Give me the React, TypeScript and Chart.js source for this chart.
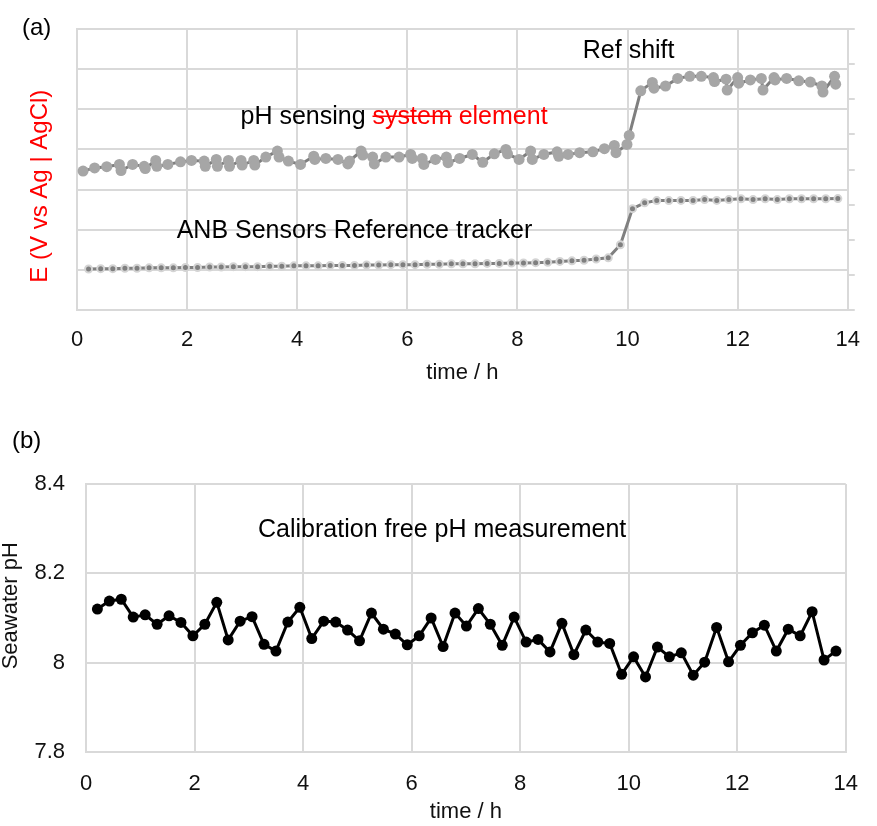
import React, { useEffect, useRef } from "react";
import { Chart, registerables } from "chart.js";

Chart.register(...registerables);

const FONT = '"Liberation Sans", Arial, Helvetica, sans-serif';

// Shared sampling times (h) for the reference tracker (a) and the seawater pH (b)
const sampleTimes = [
  0.21, 0.43, 0.65, 0.87, 1.09, 1.31, 1.53, 1.75, 1.97, 2.19, 2.41, 2.62, 2.84, 3.06, 3.28, 3.5,
  3.72, 3.94, 4.16, 4.38, 4.6, 4.82, 5.04, 5.26, 5.48, 5.7, 5.92, 6.14, 6.36, 6.58, 6.8, 7.01,
  7.23, 7.45, 7.67, 7.89, 8.11, 8.33, 8.55, 8.77, 8.99, 9.21, 9.43, 9.65, 9.87, 10.09, 10.31, 10.53,
  10.75, 10.97, 11.19, 11.4, 11.62, 11.84, 12.06, 12.28, 12.5, 12.72, 12.94, 13.16, 13.38, 13.6, 13.82,
];

// Panel (b): calibration free seawater pH
const seawaterPH = [
  8.12, 8.138, 8.142, 8.102, 8.107, 8.086, 8.105, 8.09, 8.06, 8.086, 8.135, 8.051, 8.093, 8.103, 8.041, 8.026,
  8.091, 8.124, 8.054, 8.093, 8.091, 8.073, 8.049, 8.111, 8.075, 8.064, 8.04, 8.06, 8.1, 8.036, 8.111, 8.082,
  8.121, 8.086, 8.039, 8.102, 8.046, 8.052, 8.024, 8.088, 8.018, 8.073, 8.046, 8.043, 7.974, 8.013, 7.968, 8.035,
  8.013, 8.022, 7.972, 8.001, 8.079, 8.002, 8.039, 8.067, 8.084, 8.026, 8.075, 8.06, 8.114, 8.006, 8.026,
];

// Panel (a): ANB Sensors reference tracker potential (relative units)
const refTrackerE = [
  10.2, 10.3, 10.3, 10.4, 10.4, 10.5, 10.5, 10.5, 10.6, 10.6, 10.7, 10.7, 10.8, 10.8, 10.8, 10.9,
  10.9, 11.0, 11.0, 11.0, 11.1, 11.1, 11.1, 11.2, 11.2, 11.3, 11.3, 11.3, 11.4, 11.4, 11.5, 11.5,
  11.5, 11.6, 11.6, 11.7, 11.7, 11.8, 11.9, 12.1, 12.25, 12.4, 12.7, 13.0, 16.25, 25.25, 26.7, 27.25,
  27.25, 27.3, 27.3, 27.5, 27.3, 27.5, 27.7, 27.5, 27.7, 27.5, 27.7, 27.7, 27.7, 27.7, 27.75,
];

// Panel (a): pH sensing element potential (relative units)
const phSensingTime = [
  0.11, 0.32, 0.54, 0.77, 0.8, 1.01, 1.22, 1.24, 1.43, 1.45, 1.65, 1.88, 2.08, 2.31, 2.33, 2.53,
  2.55, 2.75, 2.77, 2.98, 3.0, 3.21, 3.23, 3.43, 3.64, 3.67, 3.84, 4.06, 4.3, 4.32, 4.52, 4.74,
  4.92, 4.95, 5.16, 5.19, 5.37, 5.4, 5.61, 5.85, 6.06, 6.09, 6.27, 6.3, 6.51, 6.71, 6.74, 6.95,
  7.18, 7.37, 7.58, 7.79, 7.82, 8.03, 8.24, 8.27, 8.48, 8.72, 8.75, 8.92, 9.13, 9.37, 9.58, 9.76,
  9.79, 9.99, 10.03, 10.24, 10.45, 10.48, 10.69, 10.91, 11.13, 11.34, 11.56, 11.58, 11.79, 11.81, 12.0, 12.02,
  12.23, 12.43, 12.46, 12.66, 12.68, 12.89, 13.11, 13.32, 13.53, 13.55, 13.76, 13.78,
];
const phSensingE = [
  34.6, 35.4, 35.7, 36.25, 34.75, 36.25, 35.8, 35.25, 37.25, 35.8, 36.25, 36.9, 37.25, 37.1, 35.8, 37.5,
  35.8, 37.25, 35.8, 37.25, 36.1, 37.25, 36.1, 38.1, 39.6, 38.1, 37.1, 36.25, 38.3, 37.5, 37.75, 37.5,
  36.4, 37.1, 39.6, 38.6, 38.1, 36.4, 38.1, 38.1, 38.75, 37.75, 37.75, 36.25, 37.5, 38.1, 36.7, 37.75,
  38.75, 36.8, 38.9, 40.0, 38.9, 37.5, 39.6, 37.5, 38.75, 39.4, 38.3, 38.75, 39.2, 39.4, 40.2, 41.0,
  39.2, 41.25, 43.5, 54.6, 56.7, 55.25, 55.8, 57.7, 58.2, 58.2, 57.9, 56.9, 57.5, 54.8, 57.9, 56.5,
  57.3, 57.7, 54.8, 57.9, 57.3, 57.7, 57.1, 56.8, 55.8, 54.3, 58.2, 56.25,
];

const GRID = "#d9d9d9";
const TEXT = "#111111";

type Part = { text: string; color: string; strike?: boolean };
type Ann = { x: number; y: number; parts: Part[]; size: number; align: "left" | "center"; pixel?: boolean };

function makeTextPlugin(id: string, items: Ann[]) {
  return {
    id,
    afterDatasetsDraw(chart: any) {
      const { ctx, scales } = chart;
      ctx.save();
      for (const it of items) {
        ctx.font = `${it.size}px ${FONT}`;
        ctx.textBaseline = "middle";
        ctx.textAlign = "left";
        let x = it.pixel ? it.x : scales.x.getPixelForValue(it.x);
        const y = it.pixel ? it.y : scales.y.getPixelForValue(it.y);
        const total = it.parts.reduce((s, p) => s + ctx.measureText(p.text).width, 0);
        if (it.align === "center") x -= total / 2;
        for (const p of it.parts) {
          const w = ctx.measureText(p.text).width;
          ctx.fillStyle = p.color;
          ctx.fillText(p.text, x, y);
          if (p.strike) {
            ctx.strokeStyle = p.color;
            ctx.lineWidth = 1.5;
            ctx.beginPath();
            ctx.moveTo(x, y - 1);
            ctx.lineTo(x + w, y - 1);
            ctx.stroke();
          }
          x += w;
        }
      }
      ctx.restore();
    },
  };
}

const tickFont = { family: FONT, size: 22 };
const NBSP = "\u00a0";

export default function App() {
  const refA = useRef<HTMLCanvasElement>(null);
  const refB = useRef<HTMLCanvasElement>(null);

  useEffect(() => {
    const annA: Ann[] = [
      { x: 22, y: 28, parts: [{ text: "(a)", color: "#000" }], size: 24, align: "left", pixel: true },
      { x: 10.02, y: 64.5, parts: [{ text: "Ref shift", color: "#000" }], size: 25, align: "center" },
      {
        x: 2.97,
        y: 48,
        parts: [
          { text: "pH sensing ", color: "#000" },
          { text: "system", color: "#ff0000", strike: true },
          { text: " element", color: "#ff0000" },
        ],
        size: 25,
        align: "left",
      },
      { x: 1.81, y: 19.75, parts: [{ text: "ANB Sensors Reference tracker", color: "#000" }], size: 25, align: "left" },
    ];
    const chartA = new Chart(refA.current!, {
      type: "line",
      data: {
        datasets: [
          {
            label: "pH sensing element",
            data: phSensingTime.map((t, i) => ({ x: t, y: phSensingE[i] })),
            borderColor: "#7f7f7f",
            borderWidth: 3,
            pointRadius: 5.5,
            pointBackgroundColor: "#a6a6a6",
            pointBorderColor: "#a6a6a6",
            pointBorderWidth: 0,
            yAxisID: "y",
          },
          {
            label: "ANB Sensors Reference tracker",
            data: sampleTimes.map((t, i) => ({ x: t, y: refTrackerE[i] })),
            borderColor: "#808080",
            borderWidth: 3,
            pointRadius: 3.5,
            pointBackgroundColor: "#7f7f7f",
            pointBorderColor: "#d4d4d4",
            pointBorderWidth: 2,
            yAxisID: "y",
          },
        ],
      },
      options: {
        animation: false,
        responsive: false,
        maintainAspectRatio: false,
        layout: { padding: { top: 29, left: 0, right: 0, bottom: 0 } },
        plugins: { legend: { display: false }, tooltip: { enabled: false } },
        scales: {
          x: {
            type: "linear",
            min: 0,
            max: 14,
            ticks: { stepSize: 2, padding: 17, color: TEXT, font: tickFont },
            grid: { color: GRID, lineWidth: 2, drawTicks: false },
            border: { color: GRID, width: 2 },
            title: { display: true, text: "time / h", color: TEXT, font: tickFont, padding: { top: 0, bottom: 14 } },
            afterFit: (s: any) => {
              s.height = 90;
            },
          },
          y: {
            min: 0,
            max: 70,
            ticks: { display: false, stepSize: 10 },
            grid: { color: GRID, lineWidth: 2, drawTicks: false },
            border: { color: GRID, width: 2 },
            title: {
              display: true,
              text: "E (V vs Ag | AgCl)" + NBSP.repeat(5),
              color: "#ff0000",
              font: { family: FONT, size: 24 },
              padding: { top: 26, bottom: 0 },
            },
            afterFit: (s: any) => {
              s.width = 77;
            },
          },
          y2: {
            position: "right",
            min: 0,
            max: 80,
            ticks: { display: false, stepSize: 10 },
            grid: { drawOnChartArea: false, drawTicks: true, tickLength: 7, color: GRID, lineWidth: 2 },
            border: { color: GRID, width: 2 },
            afterFit: (s: any) => {
              s.width = 19;
            },
          },
        },
      } as any,
      plugins: [makeTextPlugin("annA", annA)],
    });

    const annB: Ann[] = [
      { x: 12, y: 41, parts: [{ text: "(b)", color: "#000" }], size: 24, align: "left", pixel: true },
      { x: 3.17, y: 8.296, parts: [{ text: "Calibration free pH measurement", color: "#000" }], size: 25, align: "left" },
    ];
    const chartB = new Chart(refB.current!, {
      type: "line",
      data: {
        datasets: [
          {
            label: "Seawater pH",
            data: sampleTimes.map((t, i) => ({ x: t, y: seawaterPH[i] })),
            borderColor: "#000",
            borderWidth: 3,
            pointRadius: 5.5,
            pointBackgroundColor: "#000",
            pointBorderColor: "#000",
            pointBorderWidth: 0,
          },
        ],
      },
      options: {
        animation: false,
        responsive: false,
        maintainAspectRatio: false,
        layout: { padding: { top: 84, left: 0, right: 29, bottom: 0 } },
        plugins: { legend: { display: false }, tooltip: { enabled: false } },
        scales: {
          x: {
            type: "linear",
            min: 0,
            max: 14,
            ticks: { stepSize: 2, padding: 19, color: TEXT, font: tickFont },
            grid: { color: GRID, lineWidth: 2, drawTicks: false },
            border: { color: GRID, width: 2 },
            title: { display: true, text: "time / h", color: TEXT, font: tickFont, padding: { top: 0, bottom: 1 } },
            afterFit: (s: any) => {
              s.height = 74;
            },
          },
          y: {
            min: 7.8,
            max: 8.4,
            ticks: {
              stepSize: 0.2,
              padding: 21,
              color: TEXT,
              font: tickFont,
              callback: (v: any) => String(Number(Number(v).toFixed(1))),
            },
            grid: { color: GRID, lineWidth: 2, drawTicks: false },
            border: { color: GRID, width: 2 },
            title: {
              display: true,
              text: NBSP.repeat(4) + "Seawater pH",
              color: TEXT,
              font: { family: FONT, size: 22, lineHeight: 1 },
              padding: { top: 0, bottom: 0 },
            },
            afterFit: (s: any) => {
              s.width = 86;
            },
          },
        },
      } as any,
      plugins: [makeTextPlugin("annB", annB)],
    });

    return () => {
      chartA.destroy();
      chartB.destroy();
    };
  }, []);

  return (
    <div style={{ position: "absolute", left: 0, top: 0, width: 877, height: 826, background: "#fff" }}>
      <canvas
        ref={refA}
        width={877}
        height={400}
        style={{ position: "absolute", left: 0, top: 0, width: 877, height: 400 }}
      />
      <canvas
        ref={refB}
        width={877}
        height={426}
        style={{ position: "absolute", left: 0, top: 400, width: 877, height: 426 }}
      />
    </div>
  );
}
